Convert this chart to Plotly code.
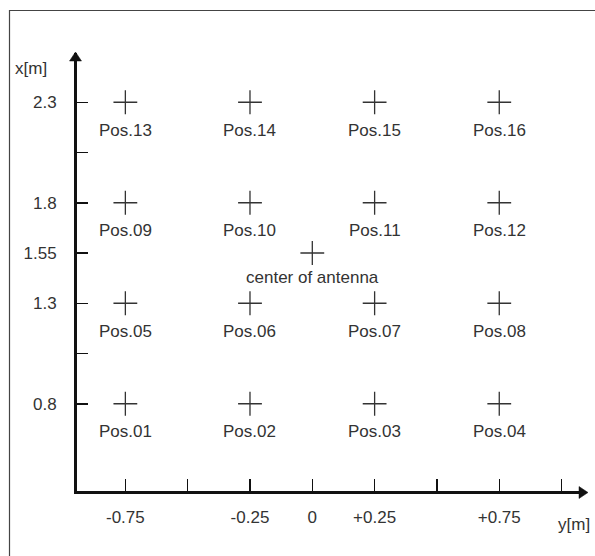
import plotly.graph_objects as go

# ---------------- data ----------------
pos_labels = ["Pos.01", "Pos.02", "Pos.03", "Pos.04",
              "Pos.05", "Pos.06", "Pos.07", "Pos.08",
              "Pos.09", "Pos.10", "Pos.11", "Pos.12",
              "Pos.13", "Pos.14", "Pos.15", "Pos.16"]
pos_y = [-0.75, -0.25, 0.25, 0.75,
         -0.75, -0.25, 0.25, 0.75,
         -0.75, -0.25, 0.25, 0.75,
         -0.75, -0.25, 0.25, 0.75]          # horizontal axis: y[m]
pos_x = [0.8, 0.8, 0.8, 0.8,
         1.3, 1.3, 1.3, 1.3,
         1.8, 1.8, 1.8, 1.8,
         2.3, 2.3, 2.3, 2.3]                 # vertical axis: x[m]

center_label = "center of antenna"
center_y = [0.0]
center_x = [1.55]

h_tickvals = [-0.75, -0.5, -0.25, 0.0, 0.25, 0.5, 0.75, 1.0]
h_ticktext = ["-0.75", "", "-0.25", "0", "+0.25", "", "+0.75", ""]
v_tickvals = [0.8, 1.05, 1.3, 1.55, 1.8, 2.05, 2.3]
v_ticktext = ["0.8", "", "1.3", "1.55", "1.8", "", "2.3"]

h_title = "y[m]"
v_title = "x[m]"

# ---------------- layout geometry / style ----------------
W, H = 595, 556
PL, PR, PT, PB = 77, 586, 53, 491          # plot area in pixels
XR = [-0.944, 1.098]
YR = [0.366, 2.545]
LABEL_GAP = 28                              # px between cross and its label

FONT = "Liberation Sans, Arial, sans-serif"
TXT = "#333333"
INK = "#111111"


def px(xp):
    return (xp - PL) / (PR - PL)


def py(yp):
    return (PB - yp) / (PB - PT)


fig = go.Figure()

# position crosses
fig.add_trace(go.Scatter(
    x=pos_y, y=pos_x, mode="markers",
    marker=dict(symbol="cross-thin", size=17, color=TXT,
                line=dict(width=1.3, color=TXT)),
    hoverinfo="skip", showlegend=False, cliponaxis=False))

fig.add_trace(go.Scatter(
    x=center_y, y=center_x, mode="markers",
    marker=dict(symbol="cross-thin", size=17, color=TXT,
                line=dict(width=1.3, color=TXT)),
    hoverinfo="skip", showlegend=False, cliponaxis=False))

annotations = []
for lab, xv, yv in zip(pos_labels, pos_y, pos_x):
    annotations.append(dict(x=xv, y=yv, xref="x", yref="y", text=lab,
                            showarrow=False, yshift=-LABEL_GAP,
                            xanchor="center", yanchor="middle",
                            font=dict(family=FONT, size=17, color=TXT)))
annotations.append(dict(x=center_y[0], y=center_x[0], xref="x", yref="y",
                        text=center_label, showarrow=False, yshift=-24,
                        xanchor="center", yanchor="middle",
                        font=dict(family=FONT, size=17, color=TXT)))
# axis titles
annotations.append(dict(x=px(31), y=py(68), xref="paper", yref="paper",
                        text=v_title, showarrow=False, xanchor="center",
                        yanchor="middle",
                        font=dict(family=FONT, size=17, color=TXT)))
annotations.append(dict(x=px(574), y=py(524), xref="paper", yref="paper",
                        text=h_title, showarrow=False, xanchor="center",
                        yanchor="middle",
                        font=dict(family=FONT, size=17, color=TXT)))

shapes = [
    # outer frame (left and top edges visible)
    dict(type="line", xref="paper", yref="paper",
         x0=px(9.5), x1=px(9.5), y0=py(10), y1=py(600),
         line=dict(color="#444444", width=1.2)),
    dict(type="line", xref="paper", yref="paper",
         x0=px(9.5), x1=px(640), y0=py(10.5), y1=py(10.5),
         line=dict(color="#444444", width=1.2)),
    # arrowheads
    dict(type="path", xref="paper", yref="paper",
         xsizemode="pixel", ysizemode="pixel", xanchor=0, yanchor=1,
         path="M-7.5,-8 L4.5,-8 L-1.5,1 Z",
         fillcolor=INK, line=dict(color=INK, width=0.5)),
    dict(type="path", xref="paper", yref="paper",
         xsizemode="pixel", ysizemode="pixel", xanchor=1, yanchor=0,
         path="M-7,4.5 L-7,-7.5 L2,-1.5 Z",
         fillcolor=INK, line=dict(color=INK, width=0.5)),
]

fig.update_layout(
    width=W, height=H,
    margin=dict(l=PL, r=W - PR, t=PT, b=H - PB, pad=0),
    paper_bgcolor="white", plot_bgcolor="white",
    showlegend=False,
    annotations=annotations,
    shapes=shapes,
    xaxis=dict(range=XR, showgrid=False, zeroline=False,
               showline=True, linewidth=3, linecolor=INK,
               ticks="inside", ticklen=12, tickwidth=1.5, tickcolor=INK,
               tickmode="array", tickvals=h_tickvals, ticktext=h_ticktext,
               tickfont=dict(family=FONT, size=17, color=TXT),
               ticklabelstandoff=9, fixedrange=True),
    yaxis=dict(range=YR, showgrid=False, zeroline=False,
               showline=True, linewidth=3, linecolor=INK,
               ticks="inside", ticklen=11, tickwidth=1.5, tickcolor=INK,
               tickmode="array", tickvals=v_tickvals, ticktext=v_ticktext,
               tickfont=dict(family=FONT, size=17, color=TXT),
               ticklabelstandoff=14, fixedrange=True),
)

fig.write_html(
    "out.html",
    config={"displayModeBar": False, "staticPlot": True},
    post_script="document.body.style.margin='0';"
                "document.body.style.overflow='hidden';",
)
